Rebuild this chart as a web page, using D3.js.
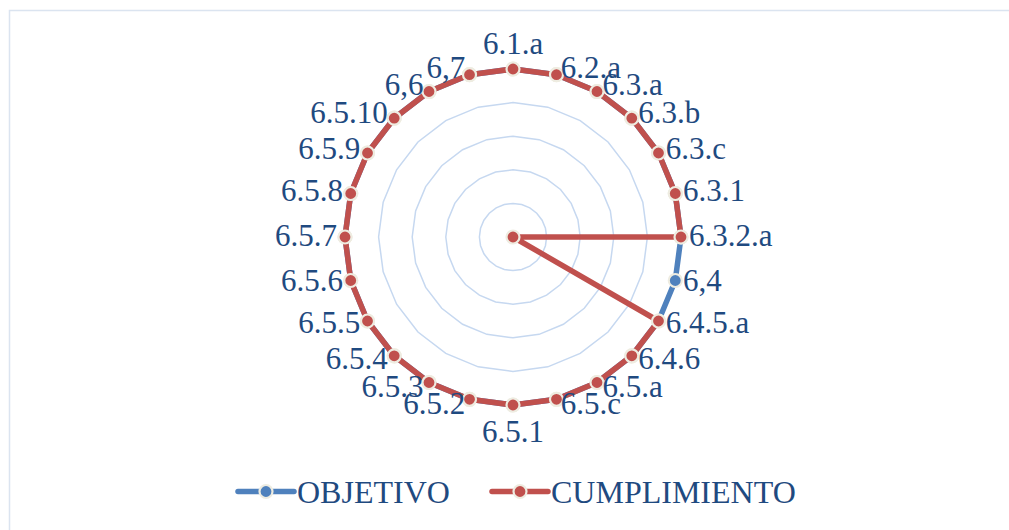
<!DOCTYPE html>
<html><head><meta charset="utf-8">
<script src="https://cdn.jsdelivr.net/npm/d3@7"></script>
<style>html,body{margin:0;padding:0;background:#fff;}svg{display:block;}</style>
</head><body>
<svg id="chart" width="1009" height="530"></svg>
<script>
const categories = ["6.1.a","6.2.a","6.3.a","6.3.b","6.3.c","6.3.1","6.3.2.a","6,4","6.4.5.a","6.4.6","6.5.a","6.5.c","6.5.1","6.5.2","6.5.3","6.5.4","6.5.5","6.5.6","6.5.7","6.5.8","6.5.9","6.5.10","6,6","6,7"];
const objetivo =     [1,1,1,1,1,1,1,1,1,1,1,1,1,1,1,1,1,1,1,1,1,1,1,1];
const cumplimiento = [1,1,1,1,1,1,1,0,1,1,1,1,1,1,1,1,1,1,1,1,1,1,1,1];
const gridTicks = [0.2,0.4,0.6,0.8,1.0];
const seriesNames = ["OBJETIVO","CUMPLIMIENTO"];

const colors = {OBJETIVO:"#4f81bd", CUMPLIMIENTO:"#c0504d"};
const textColor = "#1f4a80";
const font = "'Liberation Serif','Times New Roman',serif";

const svg = d3.select("#chart");
svg.append("rect").attr("x",9.5).attr("y",10.5).attr("width",1100).attr("height",600)
  .attr("fill","none").attr("stroke","#dbe4f0").attr("stroke-width",1.5);

const cx = 513, cy = 237;
const r = d3.scaleLinear().domain([0,1]).range([0,168]);
const angle = d3.scaleBand().domain(categories).range([0, 2*Math.PI]).paddingInner(0).paddingOuter(0);
const ang = c => angle(c);

const g = svg.append("g").attr("transform",`translate(${cx},${cy})`);

// grid rings
const ringLine = d3.lineRadial().angle(d=>ang(d.c)).radius(d=>r(d.v)).curve(d3.curveLinearClosed);
gridTicks.forEach(t=>{
  g.append("path").attr("d", ringLine(categories.map(c=>({c, v:t}))))
    .attr("fill","none").attr("stroke","#c6d8f0").attr("stroke-width",1.5);
});

const seriesData = [["OBJETIVO",objetivo],["CUMPLIMIENTO",cumplimiento]];
seriesData.forEach(([name, vals])=>{
  const pts = categories.map((c,i)=>({c, v:vals[i]}));
  g.append("path").attr("d", ringLine(pts)).attr("fill","none")
    .attr("stroke",colors[name]).attr("stroke-width",5.5).attr("stroke-linejoin","round");
  g.selectAll(null).data(pts).enter().append("circle")
    .attr("cx",d=>r(d.v)*Math.sin(ang(d.c)))
    .attr("cy",d=>-r(d.v)*Math.cos(ang(d.c)))
    .attr("r",6.5).attr("fill",colors[name]).attr("stroke","#eeece1").attr("stroke-width",2.2);
});

// category labels
categories.forEach(c=>{
  const a = ang(c);
  const s = Math.sin(a), co = Math.cos(a);
  const px = r(1)*s, py = -r(1)*co;
  let x, y, anchor;
  if (Math.abs(s) < 1e-6) {
    anchor = "middle"; x = px;
    y = co > 0 ? py - 15 : py + 37;
  } else {
    const off = 3 + 5*Math.abs(s);
    anchor = s > 0 ? "start" : "end";
    x = px + (s > 0 ? off : -off);
    y = py - 1.5 - 6*co + 10.5;
  }
  g.append("text").attr("x",x).attr("y",y).attr("text-anchor",anchor)
    .attr("font-family",font).attr("font-size",31).attr("fill",textColor).text(c);
});

// legend
const legend = [{name:"OBJETIVO", x:238}, {name:"CUMPLIMIENTO", x:492}];
legend.forEach(l=>{
  const lg = svg.append("g");
  lg.append("line").attr("x1",l.x).attr("x2",l.x+56).attr("y1",491.5).attr("y2",491.5)
    .attr("stroke",colors[l.name]).attr("stroke-width",5.5).attr("stroke-linecap","round");
  lg.append("circle").attr("cx",l.x+28).attr("cy",491.5).attr("r",6.5)
    .attr("fill",colors[l.name]).attr("stroke","#eeece1").attr("stroke-width",2.2);
  lg.append("text").attr("x",l.x+59).attr("y",502.5).attr("font-family",font)
    .attr("font-size",32).attr("fill",textColor).text(l.name);
});
</script>
</body></html>
